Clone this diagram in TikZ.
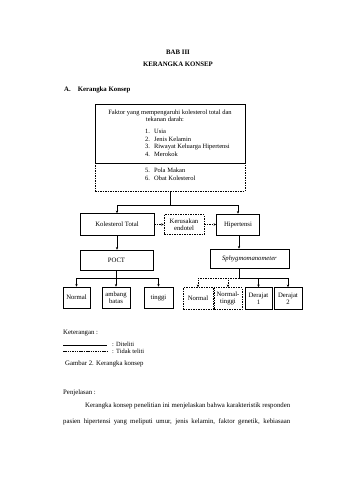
\documentclass[tikz,border=0pt]{standalone}
\usepackage{fontspec}
\setmainfont{Liberation Serif}
\usetikzlibrary{arrows.meta}
\tikzset{
  box/.style={draw, line width=0.75pt, inner sep=0pt, align=center, font=\fontsize{6.7}{7.4}\selectfont},
  dbox/.style={box, dash pattern=on 1.5pt off 1pt},
  ln/.style={line width=0.5pt},
  arr/.style={ln, -{Stealth[length=2.6pt,width=2.4pt]}},
  darr/.style={arr, dash pattern=on 1.5pt off 1pt},
  txt/.style={inner sep=0pt, font=\fontsize{6.8}{8}\selectfont},
  btxt/.style={txt, font=\fontsize{6.8}{8}\selectfont\bfseries},
}
\begin{document}
\begin{tikzpicture}[x=1pt,y=-1pt]
\useasboundingbox (0,0) rectangle (339,480);
% headings
\node[btxt] (bab) at (178,52) {BAB III};
\node[btxt] (judul) at (178,64) {KERANGKA KONSEP};
\node[btxt, anchor=west] (sub) at (64,90) {A.\hspace{7pt}Kerangka Konsep};
% top boxes
\node[box, minimum width=150pt, minimum height=59pt] (faktor) at (170,133.5) {};
\node[dbox, minimum width=150pt, minimum height=28pt] (faktor2) at (170,177) {};
\node[txt, font=\fontsize{6.5}{6.5}\selectfont] (f1) at (170,113) {Faktor yang mempengaruhi kolesterol total dan};
\node[txt, font=\fontsize{6.5}{6.5}\selectfont] (f2) at (165,119.5) {tekanan darah:};
\node[txt, anchor=north west, font=\fontsize{6.5}{7.6}\selectfont] (list1) at (145,128) {\begin{tabular}{@{}r@{\hspace{4pt}}l@{}}1. & Usia\\ 2. & Jenis Kelamin\\ 3. & Riwayat Keluarga Hipertensi\\ 4. & Merokok\end{tabular}};
\node[txt, anchor=north west, font=\fontsize{6.5}{7.8}\selectfont] (list2) at (145,167) {\begin{tabular}{@{}r@{\hspace{4pt}}l@{}}5. & Pola Makan\\ 6. & Obat Kolesterol\end{tabular}};
% middle row
\node[box, minimum width=74pt, minimum height=22pt] (kol) at (117,224.5) {Kolesterol Total};
\node[dbox, minimum width=40pt, minimum height=20pt] (ker) at (184,224.5) {Kerusakan\\endotel};
\node[box, minimum width=43pt, minimum height=21pt] (hip) at (238,224.5) {Hipertensi};
\node[box, minimum width=73pt, minimum height=20pt] (poct) at (116.5,260) {POCT};
\node[box, minimum width=79pt, minimum height=19pt] (sph) at (249.5,258.5) {\itshape Sphygmomanometer};
% bottom left
\node[box, minimum width=27pt, minimum height=21pt] (n1) at (76.5,297.5) {Normal};
\node[box, minimum width=28pt, minimum height=21pt] (ab) at (116,297.5) {ambang\\batas};
\node[box, minimum width=29pt, minimum height=21pt] (ti) at (158.5,297.5) {tinggi};
% bottom right
\node[dbox, minimum width=30pt, minimum height=22pt] (nr) at (198,298.5) {Normal};
\node[dbox, minimum width=28pt, minimum height=22pt] (nt) at (228,298.5) {Normal-\\tinggi};
\node[box, minimum width=27pt, minimum height=22pt] (d1) at (258.5,298.5) {Derajat\\1};
\node[box, minimum width=28pt, minimum height=22pt] (d2) at (288,298.5) {Derajat\\2};
% connectors
\coordinate (j1) at (170,205);
\draw[ln] (faktor2.south) -- (j1);
\draw[arr] (j1) -| (kol.north);
\draw[arr] (j1) -| (hip.north);
\draw[darr] (kol.east) -- (ker.west);
\draw[darr] (ker.east) -- (hip.west);
\draw[arr] (kol.south) -- (kol.south|-poct.north);
\coordinate (j2) at (116.5,278);
\draw[ln] (poct.south) -- (j2);
\draw[arr] (j2) -| (n1.north);
\draw[arr] (j2) -| (ab.north);
\draw[arr] (j2) -| (ti.north);
\coordinate (hs) at (239,235);
\draw[arr] (hs) -- (hs|-sph.north);
\coordinate (j3) at (239,278);
\draw[ln] (hs|-sph.south) -- (j3);
\draw[darr] (j3) -| (nr.north);
\draw[darr] (j3) -| (nt.north);
\draw[arr] (j3) -| (d1.north);
\draw[arr] (j3) -| (d2.north);
% legend
\node[txt, anchor=west] (ket) at (63,333) {Keterangan :};
\coordinate (l1a) at (63,345);
\coordinate (l1b) at (107,345);
\coordinate (l2a) at (63,351);
\coordinate (l2b) at (107,351);
\draw[line width=0.7pt] (l1a) -- (l1b);
\draw[line width=0.6pt, dash pattern=on 1.5pt off 0.8pt] (l2a) -- (l2b);
\node[txt, anchor=west, font=\fontsize{6.4}{7}\selectfont] (dit) at (112,344) {: Diteliti};
\node[txt, anchor=west, font=\fontsize{6.4}{7}\selectfont] (tdk) at (112,351.5) {: Tidak teliti};
\node[txt, anchor=west] (gbr) at (65,364) {Gambar 2. Kerangka konsep};
\node[txt, anchor=west] (pen) at (63,393) {Penjelasan :};
\node[txt, anchor=west] (p1) at (85,406) {\makebox[205pt][s]{Kerangka konsep penelitian ini menjelaskan bahwa karakteristik responden}};
\node[txt, anchor=west] (p2) at (63,422) {\makebox[227pt][s]{pasien hipertensi yang meliputi umur, jenis kelamin, faktor genetik, kebiasaan}};
\end{tikzpicture}
\end{document}
